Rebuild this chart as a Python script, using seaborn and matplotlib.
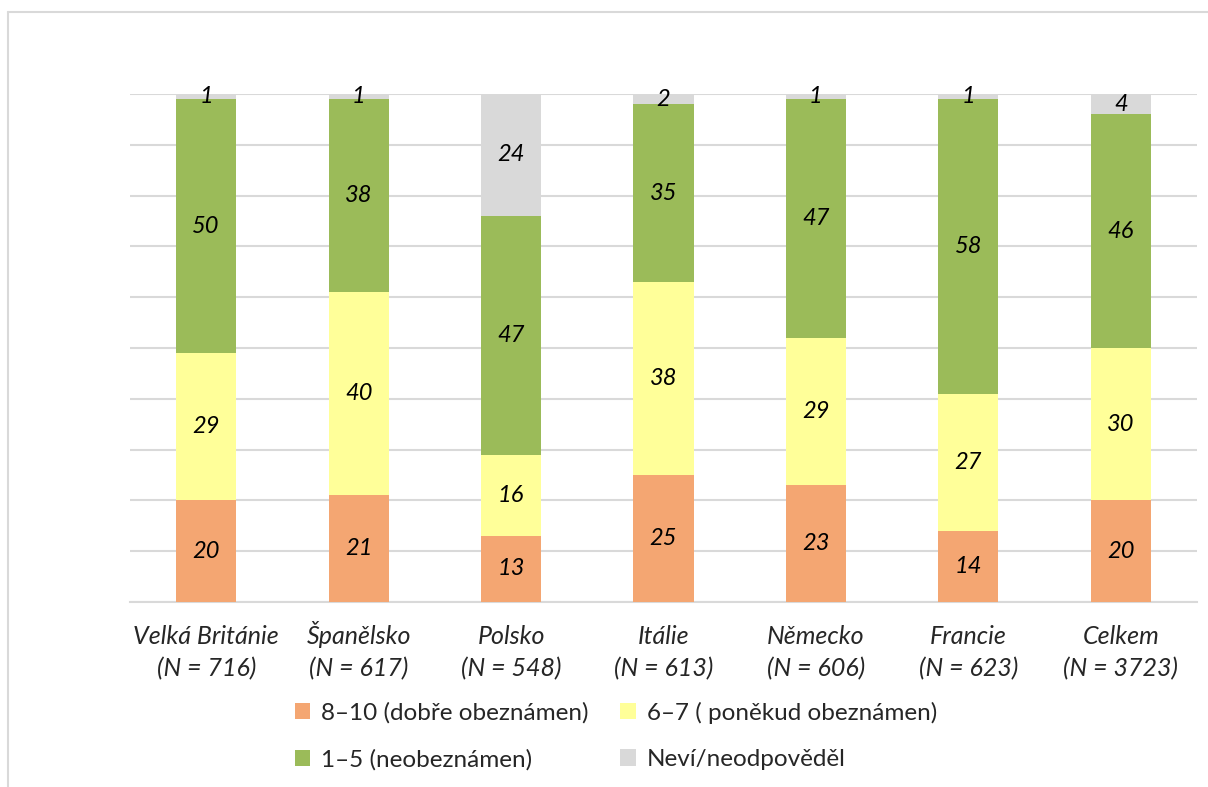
import matplotlib
matplotlib.use("Agg")
import matplotlib.pyplot as plt
from matplotlib.lines import Line2D
from matplotlib.patches import Patch
import seaborn as sns
import pandas as pd
import numpy as np

sns.set_theme(style="white")
plt.rcParams["font.family"] = ["Lato", "DejaVu Sans"]

countries = ["Velká Británie", "Španělsko", "Polsko", "Itálie", "Německo", "Francie", "Celkem"]
sample_sizes = ["(N = 716)", "(N = 617)", "(N = 548)", "(N = 613)", "(N = 606)",
                "(N = 623)", "(N = 3723)"]
well_known = [20, 21, 13, 25, 23, 14, 20]
somewhat_known = [29, 40, 16, 38, 29, 27, 30]
not_known = [50, 38, 47, 35, 47, 58, 46]
dont_know = [1, 1, 24, 2, 1, 1, 4]

series_names = ["8–10 (dobře obeznámen)", "6–7 ( poněkud obeznámen)",
                "1–5 (neobeznámen)", "Neví/neodpověděl"]
series_values = [well_known, somewhat_known, not_known, dont_know]
colors = ["#F4A672", "#FFFF99", "#9BBB59", "#D9D9D9"]

fig = plt.figure(figsize=(12.08, 7.87), dpi=100)
ax = fig.add_axes([130 / 1208, 1 - 602 / 787, (1197 - 130) / 1208, (602 - 94) / 787])

# outer frame (left and top edges)
fig.add_artist(Line2D([8 / 1208, 8 / 1208], [0, 1 - 12 / 787], transform=fig.transFigure,
                      color="#D9D9D9", lw=1.5))
fig.add_artist(Line2D([8 / 1208, 1], [1 - 12 / 787, 1 - 12 / 787], transform=fig.transFigure,
                      color="#D9D9D9", lw=1.5))

bottom = np.zeros(len(countries))
for name, vals, col in zip(series_names, series_values, colors):
    df = pd.DataFrame({"cat": countries, "val": vals})
    sns.barplot(data=df, x="cat", y="val", bottom=bottom, color=col, width=0.394,
                ax=ax, saturation=1, linewidth=0, zorder=3)
    for i, v in enumerate(vals):
        ax.text(i, bottom[i] + v / 2, str(v), ha="center", va="center",
                fontsize=17, style="italic", color="black", zorder=4)
    bottom = bottom + np.array(vals)

ax.set_ylim(0, 100)
ax.set_xlim(-0.5, len(countries) - 0.5)
ax.set_yticks(np.arange(0, 101, 10))
ax.set_yticklabels([])
ax.yaxis.grid(True, color="#D9D9D9", lw=1.5, zorder=0)
ax.xaxis.grid(False)
for s in ["left", "right", "top"]:
    ax.spines[s].set_visible(False)
ax.spines["bottom"].set_color("#D9D9D9")
ax.spines["bottom"].set_linewidth(1.5)
ax.set_xlabel("")
ax.set_ylabel("")
ax.tick_params(axis="x", length=0)
ax.tick_params(axis="y", length=0)
ax.set_xticklabels([])

# two-line category labels, each line on its own baseline
xt = ax.get_xaxis_transform()
for i, (c, n) in enumerate(zip(countries, sample_sizes)):
    ax.text(i, -42 / 508, c, transform=xt, ha="center", va="baseline",
            fontsize=18, style="italic", clip_on=False)
    ax.text(i, -74 / 508, n, transform=xt, ha="center", va="baseline",
            fontsize=18, style="italic", clip_on=False)

handles = [Patch(facecolor=c, edgecolor="none") for c in colors]
order = [0, 2, 1, 3]
fig.legend([handles[i] for i in order], [series_names[i] for i in order],
           ncol=2, loc="center", bbox_to_anchor=(616 / 1208, 1 - 736 / 787),
           frameon=False, fontsize=17.5, handlelength=0.65, handleheight=0.65,
           handletextpad=0.45, columnspacing=1.3, labelspacing=1.05)

fig.savefig("out.png", dpi=100)
